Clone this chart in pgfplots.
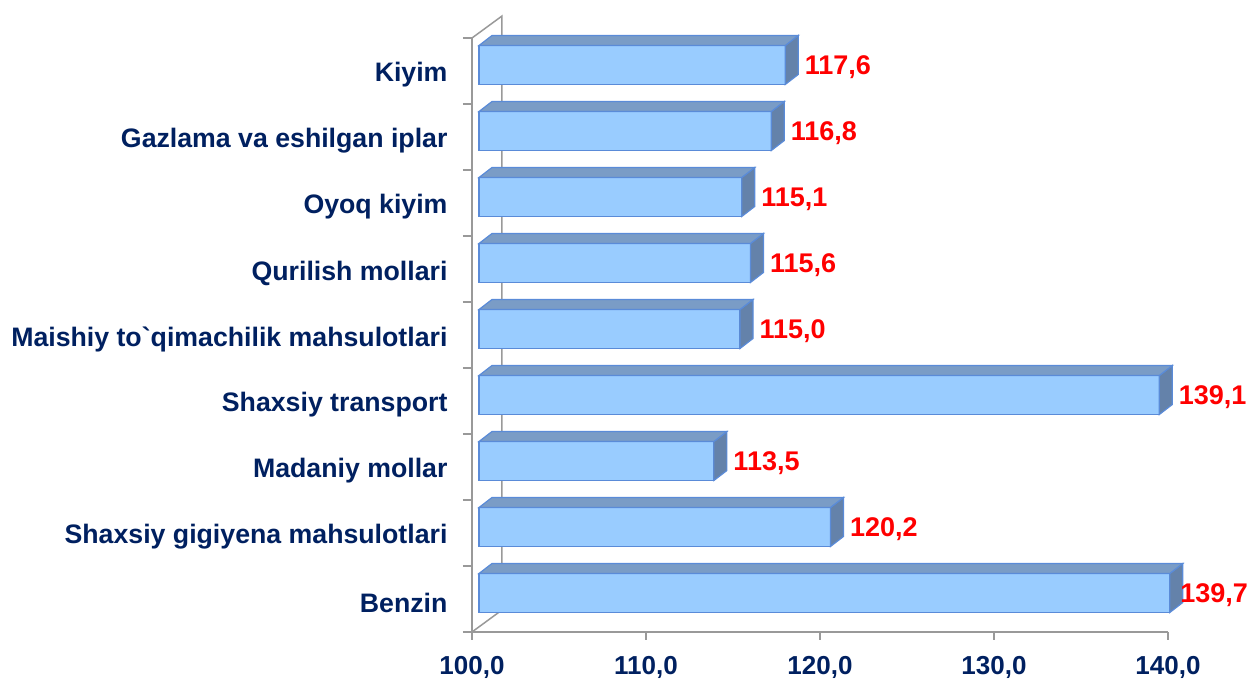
\documentclass[border=0pt]{standalone}
\usepackage{pgfplots}
\usepackage{pgfplotstable}
\pgfplotsset{compat=1.18}
\usepackage{fontspec}
\setmainfont{Liberation Sans}
\definecolor{navy}{HTML}{002060}
\definecolor{frontc}{HTML}{99CCFF}
\definecolor{topc}{HTML}{7A9CC6}
\definecolor{sidec}{HTML}{6482AA}
\definecolor{edgec}{HTML}{5A8BD8}
\definecolor{axisg}{HTML}{999999}

\pgfplotstableread{
v     c  dx
139.7 0  10
120.2 1  19
113.5 2  19
139.1 3  19
115.0 4  19
115.6 5  19
115.1 6  19
116.8 7  19
117.6 8  19
}\datatable

\pgfdeclareplotmark{box3d}{%
  \pgfmathsetmacro\barL{(\xval-100)*17.4}%
  \pgfpathmoveto{\pgfqpoint{0pt}{-13.5pt}}%
  \pgfpathlineto{\pgfqpoint{13pt}{-3.5pt}}%
  \pgfpathlineto{\pgfqpoint{13pt}{35.5pt}}%
  \pgfpathlineto{\pgfqpoint{0pt}{25.5pt}}%
  \pgfpathclose
  \pgfsetfillcolor{sidec}%
  \pgfusepath{fill,stroke}%
  \pgfpathmoveto{\pgfqpoint{0pt}{25.5pt}}%
  \pgfpathlineto{\pgfqpoint{13pt}{35.5pt}}%
  \pgfpathlineto{\pgfpoint{13pt-\barL pt}{35.5pt}}%
  \pgfpathlineto{\pgfpoint{-\barL pt}{25.5pt}}%
  \pgfpathclose
  \pgfsetfillcolor{topc}%
  \pgfusepath{fill,stroke}%
}

\begin{document}
\begin{tikzpicture}[font=\fontsize{26}{30}\selectfont\bfseries]
\useasboundingbox (0,0) rectangle (1248pt,679pt);
\begin{axis}[
  at={(472pt,47pt)}, anchor=south west,
  width=696pt, height=594pt, scale only axis,
  xmin=100, xmax=140, ymin=-0.5, ymax=8.5,
  axis lines*=left,
  axis line style={axisg, line width=1.5pt},
  xtick={100,110,...,140},
  ytick={0,...,8},
  yticklabels={Benzin, Shaxsiy gigiyena mahsulotlari, Madaniy mollar, Shaxsiy transport, Maishiy to\textasciigrave qimachilik mahsulotlari, Qurilish mollari, Oyoq kiyim, Gazlama va eshilgan iplar, Kiyim},
  minor ytick={-0.5,0.5,...,8.5},
  tick align=outside,
  major tick length=8pt,
  minor tick length=9pt,
  major y tick style={draw=none},
  minor y tick style={axisg, line width=1.5pt},
  major x tick style={axisg, line width=1.5pt},
  tick label style={font=\fontsize{26}{30}\selectfont\bfseries, text=navy},
  yticklabel style={font=\fontsize{26.7}{30}\selectfont\bfseries, xshift=-13pt, yshift=-4pt},
  /pgf/number format/assume math mode=true,
  xticklabel={\pgfmathprintnumber[fixed,fixed zerofill,precision=1,use comma]{\tick}},
  xticklabel style={yshift=-13pt},
  clip=false,
]
\draw[axisg, line width=1.5pt] (axis cs:100,8.5) -- ++(30pt,22pt) -- ([shift={(30pt,22pt)}]axis cs:100,-0.5) -- (axis cs:100,-0.5);
\addplot[xbar, bar width=39pt, bar shift=6pt, fill=frontc, draw=edgec, line width=1.2pt, xshift=7pt,
  mark=box3d, mark options={draw=edgec, line width=1.2pt},
  visualization depends on={x \as \xval},
  visualization depends on={\thisrow{dx} \as \dx},
  point meta=x,
  nodes near coords={\pgfmathprintnumber[fixed,fixed zerofill,precision=1,use comma]{\pgfplotspointmeta}},
  every node near coord/.append style={text=red, font=\fontsize{27}{30}\selectfont\bfseries, anchor=base west, inner sep=0pt, xshift=\dx pt, yshift=-4pt},
] table[x=v, y=c] {\datatable};
\end{axis}
\end{tikzpicture}
\end{document}
